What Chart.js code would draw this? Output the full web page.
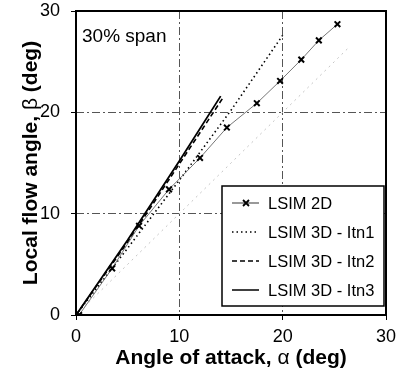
<!DOCTYPE html>
<html>
<head>
<meta charset="utf-8">
<script src="https://cdn.jsdelivr.net/npm/chart.js@4/dist/chart.umd.min.js"></script>
<style>
  body { margin: 0; background: #fff; }
  canvas { display: block; }
</style>
</head>
<body>
<canvas id="flowChart" width="398" height="383"></canvas>
<script>
// Values (alpha = angle of attack, beta = local flow angle, deg)
const alpha2D = [0.3, 3.5, 6.1, 9.0, 12.0, 14.6, 17.5, 19.75, 21.8, 23.5, 25.3];
const beta2D  = [0.0, 4.6, 8.8, 12.4, 15.5, 18.5, 20.9, 23.1, 25.2, 27.1, 28.7];

const alphaItn1 = [0, 5, 10, 15, 20];
const betaItn1  = [0, 6.6, 13.3, 20.2, 27.6];

const alphaItn2 = [0, 5, 10, 14.2];
const betaItn2  = [0, 7.2, 14.9, 21.4];

const alphaItn3 = [0, 5, 10, 14.0];
const betaItn3  = [0, 7.4, 15.2, 21.6];

// faint beta = alpha line printed behind the data
const alphaRef = [0, 26.4];
const betaRef  = [0, 26.4];

const axisTicks = [0, 10, 20, 30];
const seriesNames = ['LSIM 2D', 'LSIM 3D - Itn1', 'LSIM 3D - Itn2', 'LSIM 3D - Itn3'];

const pts = (xs, ys) => xs.map((x, i) => ({ x: x, y: ys[i] }));

const FONT = '"Liberation Sans", Arial, Helvetica, sans-serif';

// draws a string made of pieces with different fonts, centred on (0,0)
function drawPieces(ctx, pieces) {
    let total = 0;
    pieces.forEach(p => { ctx.font = p.font; total += ctx.measureText(p.text).width; });
    let x = -total / 2;
    pieces.forEach(p => {
        ctx.font = p.font;
        ctx.fillText(p.text, x, 0);
        x += ctx.measureText(p.text).width;
    });
}

const decorPlugin = {
    id: 'decor',
    afterDraw(chart) {
        const { ctx, chartArea: a } = chart;
        ctx.save();

        // plot frame
        ctx.strokeStyle = '#000';
        ctx.lineWidth = 2;
        ctx.strokeRect(a.left, a.top, a.right - a.left, a.bottom - a.top);

        ctx.fillStyle = '#000';
        ctx.textBaseline = 'middle';
        ctx.textAlign = 'left';

        // panel label
        ctx.font = '19px ' + FONT;
        ctx.fillText('30% span', a.left + 6, a.top + 26);

        // axis titles, greek letters in regular weight
        ctx.save();
        ctx.translate((a.left + a.right) / 2, 358);
        drawPieces(ctx, [
            { text: 'Angle of attack, ', font: 'bold 21px ' + FONT },
            { text: 'α', font: '21px ' + FONT },
            { text: ' (deg)', font: 'bold 21px ' + FONT }
        ]);
        ctx.restore();

        ctx.save();
        ctx.translate(31, (a.top + a.bottom) / 2);
        ctx.rotate(-Math.PI / 2);
        drawPieces(ctx, [
            { text: 'Local flow angle, ', font: 'bold 21px ' + FONT },
            { text: 'β', font: '21px ' + FONT },
            { text: ' (deg)', font: 'bold 21px ' + FONT }
        ]);
        ctx.restore();

        // legend box
        const bx = a.right - 164, by = a.bottom - 129, bw = 162, bh = 120;
        ctx.fillStyle = '#fff';
        ctx.fillRect(bx, by, bw, bh);
        ctx.strokeStyle = '#000';
        ctx.lineWidth = 1.5;
        ctx.strokeRect(bx, by, bw, bh);

        const dashes = [[], [1.5, 3], [5, 3], []];
        chart.data.datasets.slice(0, 4).forEach((ds, i) => {
            const y = by + 17 + i * 29;
            ctx.beginPath();
            ctx.setLineDash(dashes[i]);
            ctx.strokeStyle = i === 0 ? '#555' : '#000';
            ctx.lineWidth = i === 0 ? 1.2 : 1.5;
            ctx.moveTo(bx + 10, y);
            ctx.lineTo(bx + 37, y);
            ctx.stroke();
            ctx.setLineDash([]);
            if (i === 0) {
                ctx.beginPath();
                ctx.strokeStyle = '#000';
                ctx.lineWidth = 1.8;
                ctx.moveTo(bx + 21, y - 3); ctx.lineTo(bx + 27, y + 3);
                ctx.moveTo(bx + 21, y + 3); ctx.lineTo(bx + 27, y - 3);
                ctx.stroke();
            }
            ctx.fillStyle = '#000';
            ctx.font = '16.5px ' + FONT;
            ctx.fillText(seriesNames[i], bx + 46, y + 1);
        });

        ctx.restore();
    }
};

const gridColor = ctx => (ctx.tick && (ctx.tick.value === 0 || ctx.tick.value === 30)) ? 'rgba(0,0,0,0)' : '#555';

new Chart(document.getElementById('flowChart'), {
    type: 'scatter',
    data: {
        datasets: [
            {
                label: seriesNames[0],
                data: pts(alpha2D, beta2D),
                showLine: true,
                borderColor: '#777',
                borderWidth: 1,
                pointStyle: 'crossRot',
                pointRadius: 4,
                pointBorderColor: '#000',
                pointBorderWidth: 2
            },
            {
                label: seriesNames[1],
                data: pts(alphaItn1, betaItn1),
                showLine: true,
                borderColor: '#000',
                borderWidth: 1.6,
                borderDash: [1.5, 3],
                pointRadius: 0
            },
            {
                label: seriesNames[2],
                data: pts(alphaItn2, betaItn2),
                showLine: true,
                borderColor: '#000',
                borderWidth: 1.6,
                borderDash: [5, 3],
                pointRadius: 0
            },
            {
                label: seriesNames[3],
                data: pts(alphaItn3, betaItn3),
                showLine: true,
                borderColor: '#000',
                borderWidth: 1.8,
                pointRadius: 0
            },
            {
                label: 'ref',
                data: pts(alphaRef, betaRef),
                showLine: true,
                borderColor: '#c4c4c4',
                borderWidth: 1,
                borderDash: [2, 4],
                pointRadius: 0
            }
        ]
    },
    options: {
        responsive: false,
        animation: false,
        layout: { padding: { top: 11, right: 12, left: 0, bottom: 0 } },
        plugins: {
            legend: { display: false },
            tooltip: { enabled: false }
        },
        scales: {
            x: {
                type: 'linear',
                min: 0,
                max: 30,
                afterBuildTicks: s => { s.ticks = axisTicks.map(v => ({ value: v })); },
                afterFit: s => { s.height = 68; s.paddingLeft = 0; s.paddingRight = 0; },
                ticks: { color: '#000', font: { family: FONT, size: 18 }, padding: 6, maxRotation: 0 },
                grid: { color: gridColor, lineWidth: 1, tickColor: '#000', tickLength: 5 },
                border: { display: false, dash: [8, 3, 2, 3] }
            },
            y: {
                type: 'linear',
                min: 0,
                max: 30,
                afterBuildTicks: s => { s.ticks = axisTicks.map(v => ({ value: v })); },
                afterFit: s => { s.width = 76; s.paddingTop = 0; s.paddingBottom = 0; },
                ticks: { color: '#000', font: { family: FONT, size: 18 }, padding: 11 },
                grid: { color: gridColor, lineWidth: 1, tickColor: '#000', tickLength: 5 },
                border: { display: false, dash: [8, 3, 2, 3] }
            }
        }
    },
    plugins: [decorPlugin]
});
</script>
</body>
</html>
